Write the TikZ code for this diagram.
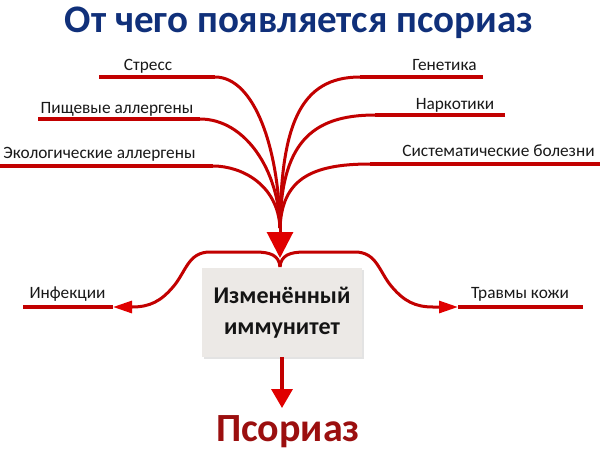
\documentclass[tikz,border=0pt]{standalone}
\usepackage{fontspec}
\setmainfont{Carlito}
\usetikzlibrary{arrows.meta,shadows}
\definecolor{lred}{HTML}{C20000}
\definecolor{ared}{HTML}{E00000}
\definecolor{tblue}{HTML}{10307A}
\definecolor{pred}{HTML}{9B0F0F}
\definecolor{boxg}{HTML}{ECE9E6}
\begin{document}
\begin{tikzpicture}[x=1pt,y=-1pt,
  lab/.style={font=\fontsize{17.3}{19}\selectfont, inner sep=0pt, anchor=base, text=black!90},
  rl/.style={draw=lred, line width=3pt},
  hl/.style={draw=lred, line width=3.5pt}]
\useasboundingbox[fill=white] (0,0) rectangle (600,453);
\node[font=\bfseries\fontsize{39}{41}\selectfont, text=tblue, anchor=base, inner sep=0pt] (title) at (299,32) {От чего появляется псориаз};
% labels
\node[lab] (stress) at (148,70) {Стресс};
\node[lab] (food) at (117,113) {Пищевые аллергены};
\node[lab] (eco) at (99.5,158) {Экологические аллергены};
\node[lab] (gen) at (444.5,70.5) {Генетика};
\node[lab] (nark) at (455,109) {Наркотики};
\node[lab] (sys) at (498.5,156) {Систематические болезни};
\node[lab] (inf) at (67.5,298) {Инфекции};
\node[lab] (trav) at (520,298) {Травмы кожи};
% coordinates
\coordinate (conv) at (280,228);
\coordinate (tip) at (280,258);
\coordinate (s1) at (99,77);   \coordinate (s2) at (215,77);
\coordinate (f1) at (38,119);  \coordinate (f2) at (200,119);
\coordinate (e1) at (0,166);   \coordinate (e2) at (213,166);
\coordinate (g1) at (483,77);  \coordinate (g2) at (360,77);
\coordinate (n1) at (505,115); \coordinate (n2) at (375,115);
\coordinate (y1) at (600,164); \coordinate (y2) at (370,164);
% horizontal label lines
\draw[hl] (s1) -- (s2);
\draw[hl] (f1) -- (f2);
\draw[hl] (e1) -- (e2);
\draw[hl] (g1) -- (g2);
\draw[hl] (n1) -- (n2);
\draw[hl] (y1) -- (y2);
% converging curves
\draw[rl] (s2) .. controls (255,77) and (279,150) .. (conv);
\draw[rl] (f2) .. controls (245,119) and (279,170) .. (conv);
\draw[rl] (e2) .. controls (242,166) and (278,185) .. (conv);
\draw[rl] (g2) .. controls (300,77) and (281,125) .. (conv);
\draw[rl] (n2) .. controls (310,115) and (281,145) .. (conv);
\draw[rl] (y2) .. controls (310,164) and (282,180) .. (conv);
\draw[rl, -{Triangle[length=26pt,width=26pt,color=ared]}] (conv) -- (tip);
% box
\node[fill=boxg, drop shadow={opacity=0.22,shadow xshift=1.5pt,shadow yshift=-1.5pt},
  minimum width=160pt, minimum height=89pt, align=center, text=black!92,
  font=\bfseries\fontsize{24}{31}\selectfont] (box) at (282,312.5) {Изменённый\\иммунитет};
% bracket
\coordinate (J) at (280,267);
\coordinate (ia) at (113,307);  \coordinate (ie) at (23,307);
\coordinate (ta) at (458,307);  \coordinate (te) at (583,307);
\draw[rl, -{Triangle[length=19pt,width=12pt,color=ared]}] (J) .. controls (279,255) and (270,252) .. (255,252)
  -- (210,252) .. controls (188,252) and (186,272) .. (173,287) .. controls (161,301) and (150,307) .. (132,307) -- (ia);
\draw[rl, -{Triangle[length=19pt,width=12pt,color=ared]}] (J) .. controls (281,255) and (290,252) .. (305,252)
  -- (355,252) .. controls (377,252) and (379,272) .. (392,287) .. controls (404,301) and (415,307) .. (433,307) -- (ta);
\draw[hl] (ia) -- (ie);
\draw[hl] (ta) -- (te);
% result
\node[font=\bfseries\fontsize{40}{42}\selectfont, text=pred, anchor=base, inner sep=0pt] (pso) at (288,441) {Псориаз};
\coordinate (dtip) at (282,408);
\draw[rl, line width=3.5pt, -{Triangle[length=19pt,width=21pt,color=ared]}] (box.south) -- (dtip);
\end{tikzpicture}
\end{document}
